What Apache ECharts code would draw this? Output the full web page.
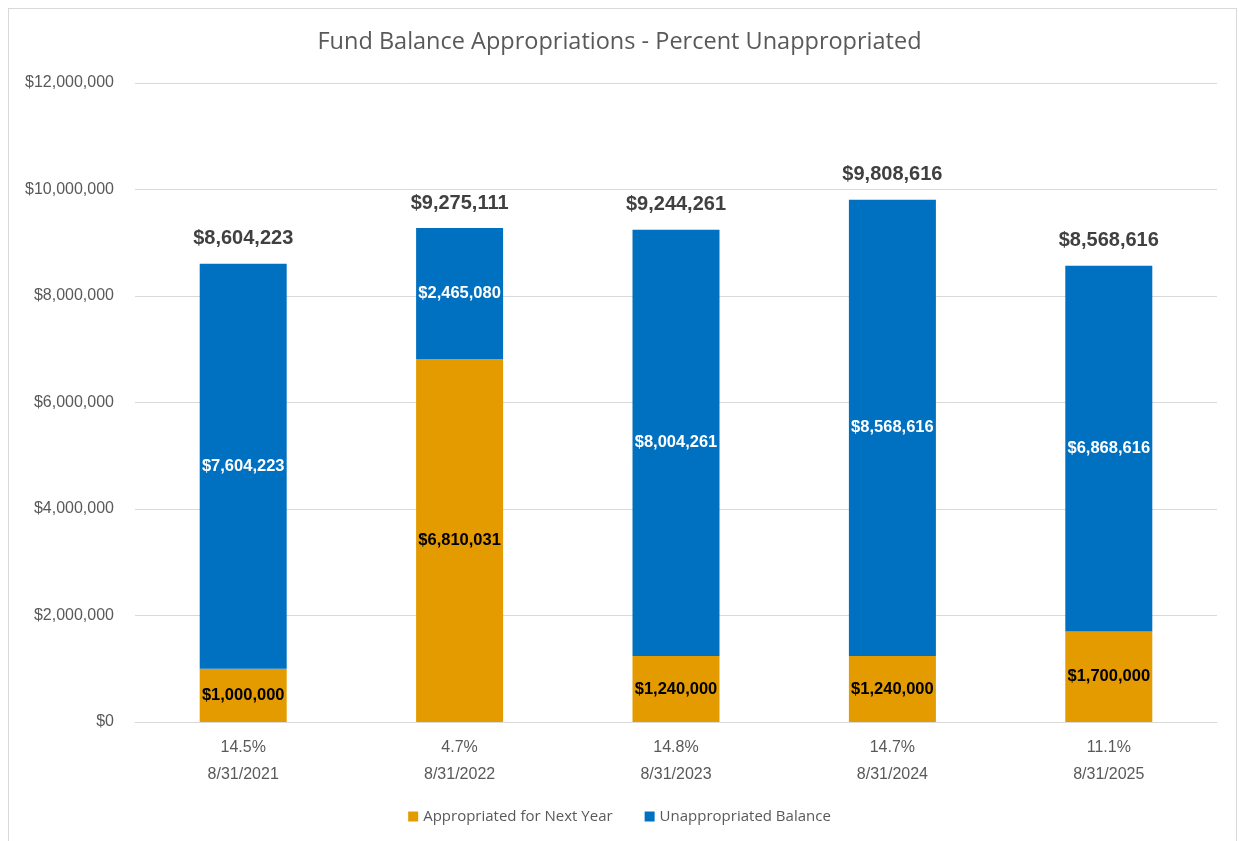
<!DOCTYPE html>
<html><head><meta charset="utf-8">
<script src="https://cdn.jsdelivr.net/npm/echarts@6/dist/echarts.min.js"></script>
<style>html,body{margin:0;padding:0;background:#fff;}#wrap{position:absolute;left:8px;top:8px;width:1229px;height:840px;border:1px solid #d9d9d9;box-sizing:border-box;}#c{position:absolute;left:0;top:0;width:1239px;height:841px;}</style>
</head><body><div id="wrap"></div><div id="c"></div>
<script>
const dates = ['8/31/2021','8/31/2022','8/31/2023','8/31/2024','8/31/2025'];
const pctUnappropriated = ['14.5%','4.7%','14.8%','14.7%','11.1%'];
const appropriated = [1000000, 6810031, 1240000, 1240000, 1700000];
const unappropriated = [7604223, 2465080, 8004261, 8568616, 6868616];
const totals = [8604223, 9275111, 9244261, 9808616, 8568616];
const yTicks = [0, 2000000, 4000000, 6000000, 8000000, 10000000, 12000000];

const fmt = v => '$' + Math.round(v).toLocaleString('en-US');
const chart = echarts.init(document.getElementById('c'));
chart.setOption({
  animation:false,
  title:{text:'Fund Balance Appropriations - Percent Unappropriated',left:'center',top:25,
    textStyle:{fontFamily:'Open Sans',fontWeight:'normal',fontSize:23.5,color:'#595959'}},
  grid:{left:135,right:22,top:83,bottom:119},
  legend:{bottom:12,left:'center',itemWidth:10,itemHeight:10,itemGap:32,icon:'rect',
    data:['Appropriated for Next Year','Unappropriated Balance'],
    textStyle:{fontFamily:'Open Sans',fontSize:15,color:'#595959'}},
  xAxis:{type:'category',data:dates.map((d,i)=>pctUnappropriated[i]+'\n'+d),
    axisLine:{lineStyle:{color:'#d9d9d9'}},axisTick:{show:false},
    axisLabel:{fontFamily:'Liberation Sans',fontSize:16,color:'#595959',lineHeight:27,margin:12}},
  yAxis:{type:'value',min:yTicks[0],max:yTicks[yTicks.length-1],interval:2000000,
    axisLine:{show:false},axisTick:{show:false},
    splitLine:{lineStyle:{color:'#d9d9d9'}},
    axisLabel:{fontFamily:'Liberation Sans',fontSize:16,color:'#595959',margin:21,formatter:v=>fmt(v)}},
  series:[
    {name:'Appropriated for Next Year',type:'bar',stack:'s',data:appropriated,barWidth:87,
     itemStyle:{color:'#E49B00'},
     label:{show:true,position:'inside',formatter:p=>fmt(p.value),
       fontFamily:'Liberation Sans',fontWeight:'bold',fontSize:16.5,color:'#000'}},
    {name:'Unappropriated Balance',type:'bar',stack:'s',data:unappropriated,barWidth:87,
     itemStyle:{color:'#0070C0'},
     label:{show:true,position:'inside',formatter:p=>fmt(p.value),
       fontFamily:'Liberation Sans',fontWeight:'bold',fontSize:16.5,color:'#fff'}},
    {name:'Total',type:'bar',stack:'s',data:totals.map(()=>0),barWidth:87,
     itemStyle:{color:'transparent'},
     label:{show:true,position:'top',distance:15,formatter:p=>fmt(totals[p.dataIndex]),
       fontFamily:'Liberation Sans',fontWeight:'bold',fontSize:20,color:'#404040'}}
  ]
});
</script></body></html>
